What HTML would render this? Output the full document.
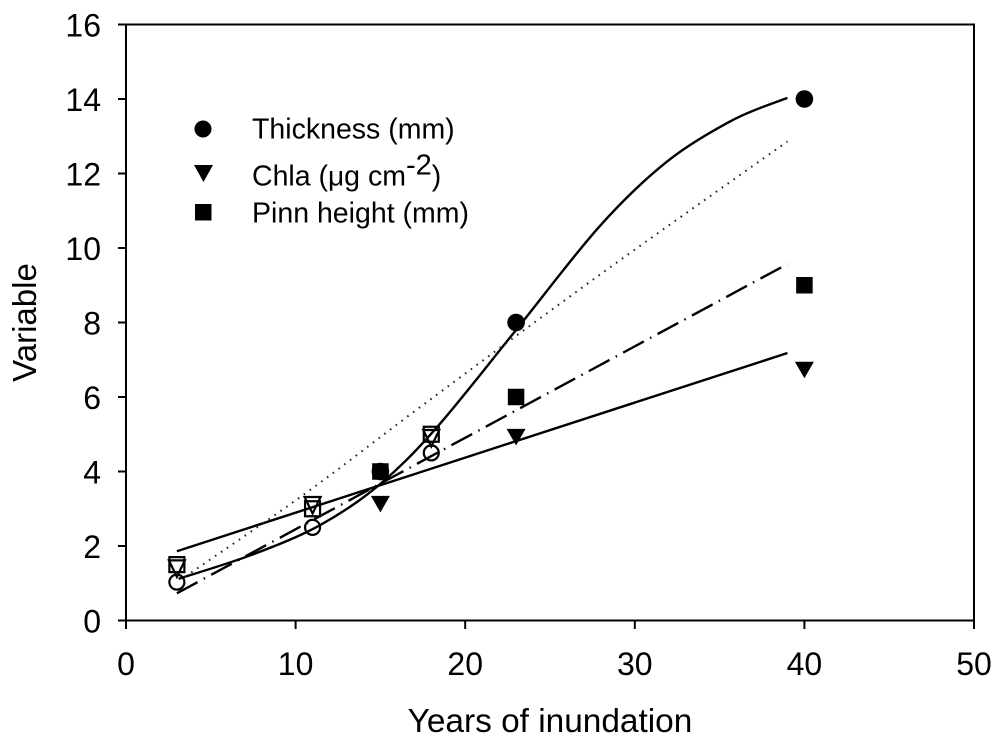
<!DOCTYPE html>
<html lang="en">
<head>
<meta charset="utf-8">
<title>Variable vs years of inundation</title>
<style>
html,body{margin:0;padding:0;background:#fff;}
body{width:1000px;height:746px;overflow:hidden;}
svg{display:block;}
text{font-family:"Liberation Sans",Arial,sans-serif;fill:#000;}
</style>
</head>
<body>
<svg id="chart" xmlns="http://www.w3.org/2000/svg" width="1000" height="746" viewBox="0 0 1000 746">
  <rect width="1000" height="746" fill="#fff"/>
  <g id="fits"></g>
  <g id="marks"></g>
  <rect x="126" y="24.5" width="848" height="596" fill="none" stroke="#000" stroke-width="2"/>
  <g id="axes"></g>
  <text x="550" y="732" font-size="33.4" text-anchor="middle">Years of inundation</text>
  <text transform="translate(36,322.5) rotate(-90)" font-size="33" text-anchor="middle">Variable</text>
  <g id="legend">
    <g>
      <circle cx="203" cy="129" r="8.5" fill="#000"/>
      <text x="252" y="138.5" font-size="28.5">Thickness (mm)</text>
    </g>
    <g>
      <polygon points="194,165 213,165 203.5,182" fill="#000"/>
      <text x="252" y="185.5" font-size="28.5">Chla (<tspan font-size="28">μ</tspan>g cm<tspan font-size="29" dy="-11">-2</tspan><tspan dy="11">)</tspan></text>
    </g>
    <g>
      <rect x="195" y="204" width="16.5" height="16.5" fill="#000"/>
      <text x="252" y="222.5" font-size="28.5">Pinn height (mm)</text>
    </g>
  </g>
</svg>
<script>
var xTickValues = [0, 10, 20, 30, 40, 50];
var yTickValues = [0, 2, 4, 6, 8, 10, 12, 14, 16];

var years = [3, 11, 15, 18, 23, 40];
var thicknessValues = [1.03, 2.5, 4.0, 4.5, 8.0, 14.0];
var chlaValues = [1.4, 3.1, 3.13, 4.9, 4.93, 6.73];
var pinnValues = [1.5, 3.0, 4.0, 5.0, 6.0, 9.0];
var openMarkerYears = [3, 11, 18];

var thicknessFitX = [3.1, 7.4, 11.4, 14.9, 18.3, 23, 27.9, 31.9, 35.8, 39];
var thicknessFitY = [1.12, 1.76, 2.55, 3.63, 5.17, 7.8, 10.57, 12.32, 13.44, 14.03];
var chlaFitX = [3, 39];
var chlaFitY = [1.86, 7.18];
var pinnFitX = [3, 39];
var pinnFitY = [0.73, 9.57];
var dottedFitX = [3.5, 10.6, 17.7, 27.9, 39];
var dottedFitY = [1.18, 3.42, 5.85, 9.27, 12.86];

var SVGNS = 'http://www.w3.org/2000/svg';
function xScale(v) { return 126 + v * (974 - 126) / 50; }
function yScale(v) { return 620.5 - v * (620.5 - 24.5) / 16; }

function make(tag, attrs, parent) {
  var el = document.createElementNS(SVGNS, tag);
  for (var k in attrs) { el.setAttribute(k, attrs[k]); }
  parent.appendChild(el);
  return el;
}

var axes = document.getElementById('axes');
xTickValues.forEach(function (v) {
  var px = xScale(v);
  var tick = make('line', {x1: px, x2: px, y1: 620.5, y2: 629, stroke: '#000', 'stroke-width': 2}, axes);
  
  
  var label = make('text', {x: px, y: 675, 'font-size': 32, 'text-anchor': 'middle'}, axes);
  
  
  label.textContent = v;
});
yTickValues.forEach(function (v) {
  var py = yScale(v);
  var tick = make('line', {x1: 118, x2: 126, y1: py, y2: py, stroke: '#000', 'stroke-width': 2}, axes);
  
  
  var label = make('text', {x: 101, y: py + 12, 'font-size': 32, 'text-anchor': 'end'}, axes);
  
  
  label.textContent = v;
});

function smoothPath(xs, ys) {
  var pts = xs.map(function (x, i) { return [xScale(x), yScale(ys[i])]; });
  var d = 'M' + pts[0][0] + ' ' + pts[0][1];
  for (var i = 0; i < pts.length - 1; i++) {
    var p0 = pts[Math.max(i - 1, 0)], p1 = pts[i], p2 = pts[i + 1], p3 = pts[Math.min(i + 2, pts.length - 1)];
    d += 'C' + (p1[0] + (p2[0] - p0[0]) / 6) + ' ' + (p1[1] + (p2[1] - p0[1]) / 6) + ' ' +
         (p2[0] - (p3[0] - p1[0]) / 6) + ' ' + (p2[1] - (p3[1] - p1[1]) / 6) + ' ' + p2[0] + ' ' + p2[1];
  }
  return d;
}

var fits = document.getElementById('fits');
var thicknessFit = make('path', {d: smoothPath(thicknessFitX, thicknessFitY), fill: 'none', stroke: '#000', 'stroke-width': 2.4}, fits);


var chlaFit = make('path', {d: smoothPath(chlaFitX, chlaFitY), fill: 'none', stroke: '#000', 'stroke-width': 2.4}, fits);


var pinnFit = make('path', {d: smoothPath(pinnFitX, pinnFitY), fill: 'none', stroke: '#000', 'stroke-width': 2.4, 'stroke-dasharray': '23.5 7 1.5 7'}, fits);


var dottedFit = make('path', {d: smoothPath(dottedFitX, dottedFitY), fill: 'none', stroke: '#222', 'stroke-width': 2, 'stroke-dasharray': '1.6 5.6'}, fits);



var marks = document.getElementById('marks');
function styleFor(year) {
  var open = openMarkerYears.indexOf(year) !== -1;
  return open ? {fill: 'none', stroke: '#000', 'stroke-width': 2.2} : {fill: '#000', stroke: 'none'};
}
function merge(a, b) { for (var k in b) { a[k] = b[k]; } return a; }

years.forEach(function (year, i) {
  var px = xScale(year);
  var st = styleFor(year);
  var open = st.fill === 'none';

  var c = make('circle', merge({cx: px, cy: yScale(thicknessValues[i]), r: open ? 7.5 : 8.8}, st), marks);
  
  

  var ty = yScale(chlaValues[i]);
  var w = open ? 8 : 9.5;
  var tri = make('polygon', merge({points: (px - w) + ',' + (ty - 8) + ' ' + (px + w) + ',' + (ty - 8) + ' ' + px + ',' + (ty + 8.5)}, st), marks);
  
  

  var sy = yScale(pinnValues[i]);
  var half = open ? 7.5 : 8.25;
  var sq = make('rect', merge({x: px - half, y: sy - half, width: half * 2, height: half * 2}, st), marks);
  
  
});
</script>
</body>
</html>
